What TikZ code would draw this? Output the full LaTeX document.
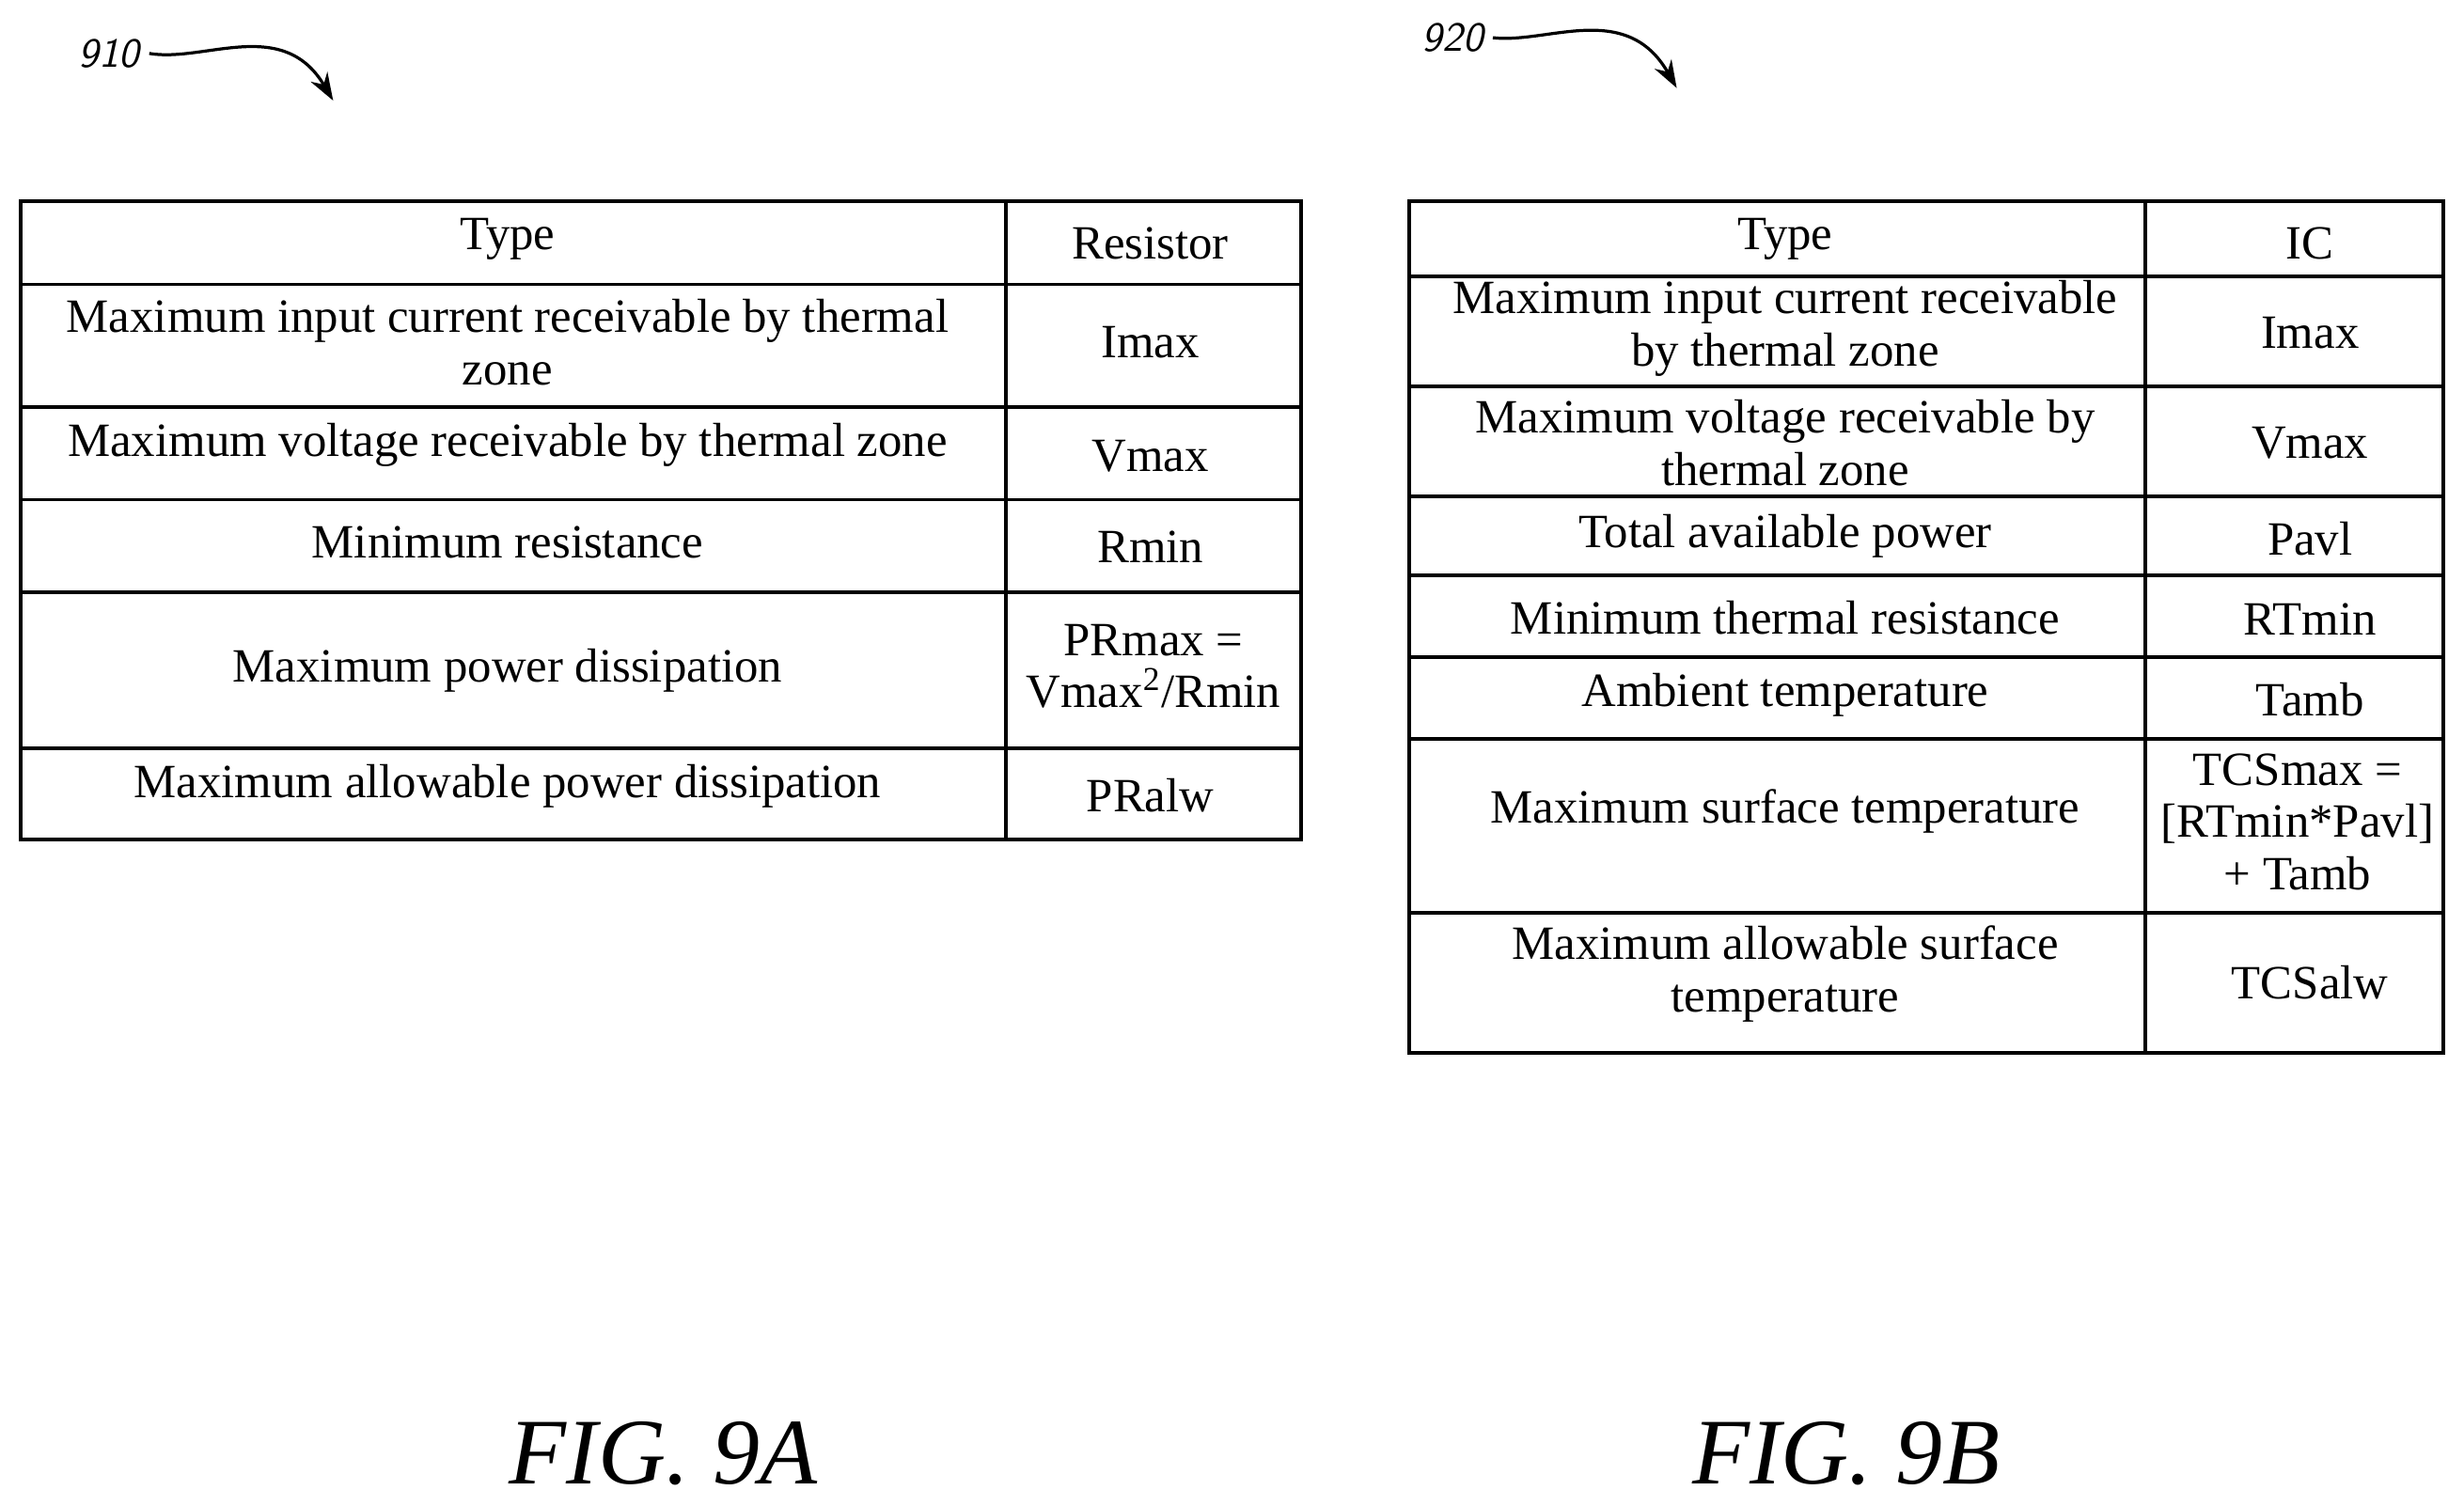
\documentclass[tikz,border=0pt]{standalone}
\usepackage{fontspec}
\setmainfont{Liberation Serif}
\usetikzlibrary{arrows.meta}
\begin{document}
\begin{tikzpicture}[x=0.02cm,y=-0.02cm,
  cell/.style={align=center,font=\fontsize{17.3}{19}\selectfont,inner sep=0pt},
  grid/.style={line width=1.3pt},
  lab/.style={font=\sffamily\itshape\fontsize{15}{16}\selectfont},
  fig/.style={font=\itshape\fontsize{34}{38}\selectfont},
  ref/.style={line width=1.1pt,-{Stealth[length=10pt,width=7pt]}}]
\useasboundingbox (0,0) rectangle (1568,958);
% Table A
\draw[grid] (13,128) rectangle (828,534);
\draw[grid] (640,128) -- (640,534);
\foreach \y in {181,259,318,377,476} \draw[grid] (13,\y) -- (828,\y);
\node[cell] (a1) at (323,152) {Type};
\node[cell] (a1v) at (732,155) {Resistor};
\node[cell] (a2) at (323,218) {Maximum input current receivable by thermal\\zone};
\node[cell] (a2v) at (732,218) {Imax};
\node[cell] (a3) at (323,283) {Maximum voltage receivable by thermal zone};
\node[cell] (a3v) at (732,290) {Vmax};
\node[cell] (a4) at (323,345) {Minimum resistance};
\node[cell] (a4v) at (732,348) {Rmin};
\node[cell] (a5) at (323,427) {Maximum power dissipation};
\node[cell] (a5v) at (734,424) {PRmax =\\Vmax\textsuperscript{2}/Rmin};
\node[cell] (a6) at (323,500) {Maximum allowable power dissipation};
\node[cell] (a6v) at (732,506) {PRalw};
% Table B
\draw[grid] (897,128) rectangle (1555,670);
\draw[grid] (1365,128) -- (1365,670);
\foreach \y in {176,246,316,366,418,470,581} \draw[grid] (897,\y) -- (1555,\y);
\node[cell] (b1) at (1136,152) {Type};
\node[cell] (b1v) at (1470,155) {IC};
\node[cell] (b2) at (1136,209) {Maximum input current receivable\\by thermal zone};
\node[cell] (b2v) at (1470,212) {Imax};
\node[cell] (b3) at (1136,282) {Maximum voltage receivable by\\thermal zone};
\node[cell] (b3v) at (1470,282) {Vmax};
\node[cell] (b4) at (1136,341) {Total available power};
\node[cell] (b4v) at (1470,343) {Pavl};
\node[cell] (b5) at (1136,393) {Minimum thermal resistance};
\node[cell] (b5v) at (1470,394) {RTmin};
\node[cell] (b6) at (1136,442) {Ambient temperature};
\node[cell] (b6v) at (1470,445) {Tamb};
\node[cell] (b7) at (1136,516) {Maximum surface temperature};
\node[cell] (b7v) at (1462,523) {TCSmax =\\{}[RTmin*Pavl]\\+ Tamb};
\node[cell] (b8) at (1136,620) {Maximum allowable surface\\temperature};
\node[cell] (b8v) at (1470,625) {TCSalw};
% labels
\node[lab,anchor=east] (l910) at (95,34) {910};
\coordinate (e910) at (212,64);
\draw[ref] (l910.east) .. controls (130,40) and (180,10) .. (e910);
\node[lab,anchor=east] (l920) at (950,24) {920};
\coordinate (e920) at (1067,56);
\draw[ref] (l920.east) .. controls (985,28) and (1035,0) .. (e920);
\node[fig] (f9a) at (422,925) {FIG. 9A};
\node[fig] (f9b) at (1175,925) {FIG. 9B};
\end{tikzpicture}
\end{document}
